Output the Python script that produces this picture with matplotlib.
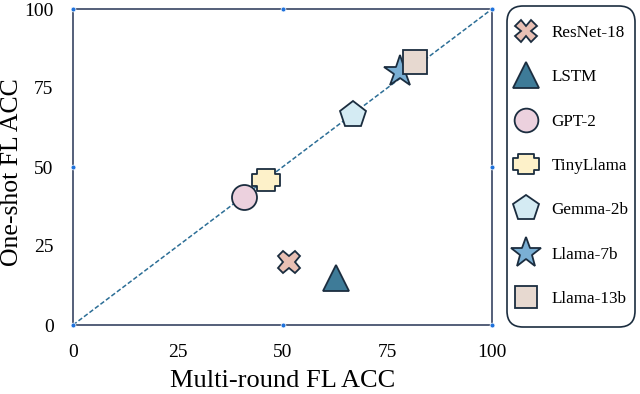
import numpy as np
import matplotlib.pyplot as plt
from matplotlib.path import Path
from matplotlib.patches import FancyBboxPatch

# model results
models = ['ResNet-18', 'LSTM', 'GPT-2', 'TinyLlama', 'Gemma-2b', 'Llama-7b', 'Llama-13b']
multi_round = [51.5, 62.7, 40.8, 46.0, 66.8, 78.0, 81.6]
one_shot = [20.0, 14.8, 40.5, 45.9, 66.5, 80.0, 83.2]
colors = ['#e9c0b4', '#3e7b98', '#ecd1de', '#fdf1c9', '#d4ebf3', '#7aafd4', '#e7d9d0']
ticks = [0, 25, 50, 75, 100]

# wide "plus" used for TinyLlama
w, h, a, b = 1.0, 0.78, 0.62, 0.46
fat_plus = Path([(-a, h), (a, h), (a, b), (w, b), (w, -b), (a, -b), (a, -h),
                 (-a, -h), (-a, -b), (-w, -b), (-w, b), (-a, b), (-a, h)], closed=True)
markers = ['X', '^', 'o', fat_plus, 'p', '*', 's']
sizes = [16, 19, 18, 20, 20, 24, 17]

plt.rcParams['font.family'] = ['Liberation Serif', 'DejaVu Serif']

fig = plt.figure(figsize=(6.4, 3.94), dpi=100)
ax = fig.add_axes([73 / 640, 1 - 325 / 394, 419 / 640, 316 / 394])

edge = '#1b2d3f'
# y = x reference line
ax.plot([0, 100], [0, 100], ls=(0, (3, 1.5)), color='#2c6e96', lw=1.1, zorder=1)

for i in range(len(models)):
    ax.plot(multi_round[i], one_shot[i], marker=markers[i], ms=sizes[i],
            mfc=colors[i], mec=edge, mew=1.3, ls='none', label=models[i], zorder=3)

ax.set_xlim(0, 100)
ax.set_ylim(0, 100)
ax.set_xticks(ticks)
ax.set_yticks(ticks)
ax.tick_params(length=0, labelsize=14, pad=14)
ax.set_xlabel('Multi-round FL ACC', fontsize=19, labelpad=6)
ax.set_ylabel('One-shot FL ACC', fontsize=18.5, va='center')
ax.yaxis.set_label_coords(-61 / 419, 0.484)
for s in ax.spines.values():
    s.set_color('#46536e')
    s.set_linewidth(1.3)

# little handle dots on the frame
handles_x = [0, 50, 100, 0, 100, 0, 50, 100]
handles_y = [0, 0, 0, 50, 50, 100, 100, 100]
ax.plot(handles_x, handles_y, 'o', ms=3.5, color='#1f72dc', mec='white', mew=0.5,
        clip_on=False, zorder=5)

# legend entries without frame, rounded box drawn separately
leg = fig.legend(loc='upper left', bbox_to_anchor=(513 / 640, 1 - 25 / 394),
                 fontsize=12.3, labelspacing=1.66, handletextpad=0.75,
                 borderpad=0, borderaxespad=0, handlelength=1.5, frameon=False,
                 markerscale=0.95)
box = FancyBboxPatch((5.07, 0.67), 1.28, 3.21, boxstyle='round,pad=0,rounding_size=0.16',
                     transform=fig.dpi_scale_trans, fc='white', ec='#1b2d3f', lw=1.2,
                     zorder=0)
fig.add_artist(box)

fig.savefig('out.png', dpi=100)
